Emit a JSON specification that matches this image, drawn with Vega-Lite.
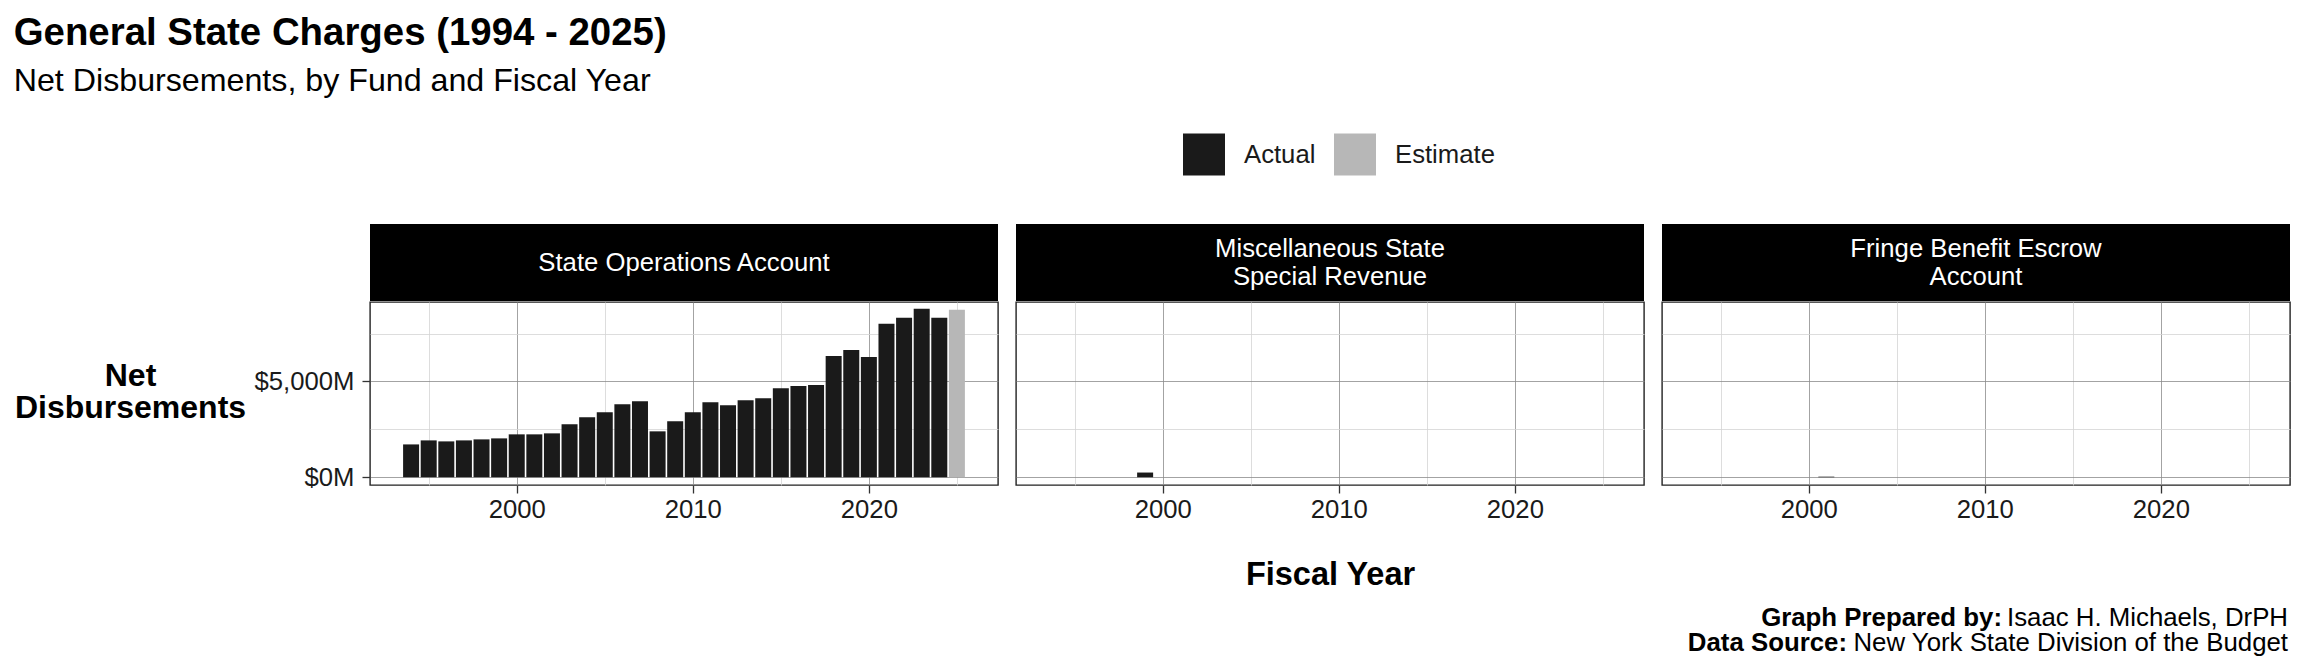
{
  "$schema": "https://vega.github.io/schema/vega-lite/v6.json",
  "background": "white",
  "padding": {"left": 13, "top": 13, "right": 16, "bottom": 4},
  "title": {
    "text": "General State Charges (1994 - 2025)",
    "subtitle": "Net Disbursements, by Fund and Fiscal Year",
    "anchor": "start",
    "frame": "bounds",
    "fontSize": 38.4,
    "fontWeight": "bold",
    "color": "black",
    "subtitleFontSize": 32.2,
    "subtitleColor": "black",
    "subtitlePadding": 13,
    "offset": 35
  },
  "datasets": {
    "gsc": [
      {"fund": "State Operations Account", "year": 1994, "value": 1713, "type": "Actual"},
      {"fund": "State Operations Account", "year": 1995, "value": 1923, "type": "Actual"},
      {"fund": "State Operations Account", "year": 1996, "value": 1871, "type": "Actual"},
      {"fund": "State Operations Account", "year": 1997, "value": 1923, "type": "Actual"},
      {"fund": "State Operations Account", "year": 1998, "value": 1976, "type": "Actual"},
      {"fund": "State Operations Account", "year": 1999, "value": 2028, "type": "Actual"},
      {"fund": "State Operations Account", "year": 2000, "value": 2238, "type": "Actual"},
      {"fund": "State Operations Account", "year": 2001, "value": 2238, "type": "Actual"},
      {"fund": "State Operations Account", "year": 2002, "value": 2290, "type": "Actual"},
      {"fund": "State Operations Account", "year": 2003, "value": 2762, "type": "Actual"},
      {"fund": "State Operations Account", "year": 2004, "value": 3129, "type": "Actual"},
      {"fund": "State Operations Account", "year": 2005, "value": 3392, "type": "Actual"},
      {"fund": "State Operations Account", "year": 2006, "value": 3811, "type": "Actual"},
      {"fund": "State Operations Account", "year": 2007, "value": 3969, "type": "Actual"},
      {"fund": "State Operations Account", "year": 2008, "value": 2395, "type": "Actual"},
      {"fund": "State Operations Account", "year": 2009, "value": 2920, "type": "Actual"},
      {"fund": "State Operations Account", "year": 2010, "value": 3392, "type": "Actual"},
      {"fund": "State Operations Account", "year": 2011, "value": 3916, "type": "Actual"},
      {"fund": "State Operations Account", "year": 2012, "value": 3759, "type": "Actual"},
      {"fund": "State Operations Account", "year": 2013, "value": 4021, "type": "Actual"},
      {"fund": "State Operations Account", "year": 2014, "value": 4126, "type": "Actual"},
      {"fund": "State Operations Account", "year": 2015, "value": 4650, "type": "Actual"},
      {"fund": "State Operations Account", "year": 2016, "value": 4755, "type": "Actual"},
      {"fund": "State Operations Account", "year": 2017, "value": 4808, "type": "Actual"},
      {"fund": "State Operations Account", "year": 2018, "value": 6329, "type": "Actual"},
      {"fund": "State Operations Account", "year": 2019, "value": 6643, "type": "Actual"},
      {"fund": "State Operations Account", "year": 2020, "value": 6276, "type": "Actual"},
      {"fund": "State Operations Account", "year": 2021, "value": 8007, "type": "Actual"},
      {"fund": "State Operations Account", "year": 2022, "value": 8322, "type": "Actual"},
      {"fund": "State Operations Account", "year": 2023, "value": 8794, "type": "Actual"},
      {"fund": "State Operations Account", "year": 2024, "value": 8322, "type": "Actual"},
      {"fund": "State Operations Account", "year": 2025, "value": 8741, "type": "Estimate"},
      {"fund": "Miscellaneous State Special Revenue", "year": 1999, "value": 245, "type": "Actual"},
      {"fund": "Fringe Benefit Escrow Account", "year": 2001, "value": 30, "type": "Actual"}
    ]
  },
  "vconcat": [
    {
      "hconcat": [
        {
          "vconcat": [
            {
              "width": 628, "height": 77,
              "data": {"values": [{"panel": "State Operations Account"}]},
              "mark": {"type": "text", "color": "white", "fontSize": 25.7, "lineBreak": "\n", "lineHeight": 28},
              "encoding": {"text": {"field": "panel"}},
              "view": {"fill": "black", "stroke": null}
            },
            {
              "width": 628, "height": 183,
              "data": {"name": "gsc"},
              "transform": [{"filter": "datum.fund === 'State Operations Account'"}],
              "mark": {"type": "bar", "size": 16},
              "encoding": {
                "x": {"field": "year", "type": "quantitative",
                  "scale": {"domain": [1991.95, 2027.05], "nice": false, "zero": false},
                  "axis": {"values": [1995, 2000, 2005, 2010, 2015, 2020, 2025], "format": "d",
                    "labelExpr": "datum.value % 10 === 0 ? datum.label : ''",
                    "tickOpacity": {"condition": {"test": "datum.value % 10 === 0", "value": 1}, "value": 0},
                    "gridColor": {"condition": {"test": "datum.value % 10 === 0", "value": "#8c8c8c"}, "value": "#d4d4d4"},
                    "labelPadding": 4.5, "labelOverlap": false, "labelFlush": false, "title": null}},
                "y": {"field": "value", "type": "quantitative",
                  "scale": {"domain": [-405, 9145], "nice": false},
                  "axis": {"values": [0, 2500, 5000, 7500],
                    "labelExpr": "datum.value % 5000 === 0 ? '$' + format(datum.value, ',') + 'M' : ''",
                    "tickOpacity": {"condition": {"test": "datum.value % 5000 === 0", "value": 1}, "value": 0},
                    "gridColor": {"condition": {"test": "datum.value % 5000 === 0", "value": "#8c8c8c"}, "value": "#d4d4d4"},
                    "labelPadding": 8,
                    "title": ["Net", "Disbursements"], "titleAngle": 0, "titleAlign": "center", "titleBaseline": "middle",
                    "titleX": -240, "titleY": 73.5, "titleLineHeight": 32}},
                "y2": {"datum": 0},
                "color": {"field": "type", "type": "nominal",
                  "scale": {"domain": ["Actual", "Estimate"], "range": ["#1a1a1a", "#b7b7b7"]},
                  "legend": {"title": null, "orient": "none", "legendX": 813, "legendY": -90.5, "direction": "horizontal",
                    "symbolType": "square", "symbolSize": 1764, "symbolStrokeWidth": 0, "symbolOpacity": 1,
                    "labelFontSize": 25.7, "labelColor": "#1a1a1a", "labelOffset": 19, "columnPadding": 18, "labelLimit": 400}}
              },
              "view": {"stroke": "#222222", "strokeWidth": 1.4}
            }
          ],
          "spacing": 0
        },
        {
          "vconcat": [
            {
              "width": 628, "height": 77,
              "data": {"values": [{"panel": "Miscellaneous State\nSpecial Revenue"}]},
              "mark": {"type": "text", "color": "white", "fontSize": 25.7, "lineBreak": "\n", "lineHeight": 28, "dy": -14},
              "encoding": {"text": {"field": "panel"}},
              "view": {"fill": "black", "stroke": null}
            },
            {
              "width": 628, "height": 183,
              "data": {"name": "gsc"},
              "transform": [{"filter": "datum.fund === 'Miscellaneous State Special Revenue'"}],
              "mark": {"type": "bar", "size": 16},
              "encoding": {
                "x": {"field": "year", "type": "quantitative",
                  "scale": {"domain": [1991.95, 2027.05], "nice": false, "zero": false},
                  "axis": {"values": [1995, 2000, 2005, 2010, 2015, 2020, 2025], "format": "d",
                    "labelExpr": "datum.value % 10 === 0 ? datum.label : ''",
                    "tickOpacity": {"condition": {"test": "datum.value % 10 === 0", "value": 1}, "value": 0},
                    "gridColor": {"condition": {"test": "datum.value % 10 === 0", "value": "#8c8c8c"}, "value": "#d4d4d4"},
                    "labelPadding": 4.5, "labelOverlap": false, "labelFlush": false,
                    "title": "Fiscal Year", "titlePadding": 36, "titleFontSize": 32.5}},
                "y": {"field": "value", "type": "quantitative",
                  "scale": {"domain": [-405, 9145], "nice": false},
                  "axis": {"values": [0, 2500, 5000, 7500], "labels": false, "ticks": false, "title": null,
                    "gridColor": {"condition": {"test": "datum.value % 5000 === 0", "value": "#8c8c8c"}, "value": "#d4d4d4"}}},
                "y2": {"datum": 0},
                "color": {"field": "type", "type": "nominal",
                  "scale": {"domain": ["Actual", "Estimate"], "range": ["#1a1a1a", "#b7b7b7"]},
                  "legend": null}
              },
              "view": {"stroke": "#222222", "strokeWidth": 1.4}
            }
          ],
          "spacing": 0
        },
        {
          "vconcat": [
            {
              "width": 628, "height": 77,
              "data": {"values": [{"panel": "Fringe Benefit Escrow\nAccount"}]},
              "mark": {"type": "text", "color": "white", "fontSize": 25.7, "lineBreak": "\n", "lineHeight": 28, "dy": -14},
              "encoding": {"text": {"field": "panel"}},
              "view": {"fill": "black", "stroke": null}
            },
            {
              "width": 628, "height": 183,
              "data": {"name": "gsc"},
              "transform": [{"filter": "datum.fund === 'Fringe Benefit Escrow Account'"}],
              "mark": {"type": "bar", "size": 16},
              "encoding": {
                "x": {"field": "year", "type": "quantitative",
                  "scale": {"domain": [1991.95, 2027.05], "nice": false, "zero": false},
                  "axis": {"values": [1995, 2000, 2005, 2010, 2015, 2020, 2025], "format": "d",
                    "labelExpr": "datum.value % 10 === 0 ? datum.label : ''",
                    "tickOpacity": {"condition": {"test": "datum.value % 10 === 0", "value": 1}, "value": 0},
                    "gridColor": {"condition": {"test": "datum.value % 10 === 0", "value": "#8c8c8c"}, "value": "#d4d4d4"},
                    "labelPadding": 4.5, "labelOverlap": false, "labelFlush": false, "title": null}},
                "y": {"field": "value", "type": "quantitative",
                  "scale": {"domain": [-405, 9145], "nice": false},
                  "axis": {"values": [0, 2500, 5000, 7500], "labels": false, "ticks": false, "title": null,
                    "gridColor": {"condition": {"test": "datum.value % 5000 === 0", "value": "#8c8c8c"}, "value": "#d4d4d4"}}},
                "y2": {"datum": 0},
                "color": {"field": "type", "type": "nominal",
                  "scale": {"domain": ["Actual", "Estimate"], "range": ["#1a1a1a", "#b7b7b7"]},
                  "legend": null}
              },
              "view": {"stroke": "#222222", "strokeWidth": 1.4}
            }
          ],
          "spacing": 0
        }
      ],
      "spacing": 16
    },
    {
      "width": 1918, "height": 48,
      "data": {"values": [{}]},
      "layer": [
        {"mark": {"type": "text", "text": "Graph Prepared by:", "fontWeight": "bold", "fontSize": 25.8, "align": "right", "baseline": "middle", "dx": -286, "dy": -9, "color": "black"}, "encoding": {"x": {"value": "width"}}},
        {"mark": {"type": "text", "text": "Isaac H. Michaels, DrPH", "fontSize": 25.8, "align": "right", "baseline": "middle", "dy": -9, "color": "black"}, "encoding": {"x": {"value": "width"}}},
        {"mark": {"type": "text", "text": "Data Source:", "fontWeight": "bold", "fontSize": 25.8, "align": "right", "baseline": "middle", "dx": -441, "dy": 16, "color": "black"}, "encoding": {"x": {"value": "width"}}},
        {"mark": {"type": "text", "text": "New York State Division of the Budget", "fontSize": 25.8, "align": "right", "baseline": "middle", "dy": 16, "color": "black"}, "encoding": {"x": {"value": "width"}}}
      ],
      "view": {"stroke": null}
    }
  ],
  "spacing": 11,
  "config": {
    "font": "Liberation Sans",
    "view": {"stroke": null},
    "axis": {"domain": false, "labelFontSize": 25.7, "labelColor": "#1a1a1a", "tickColor": "#333333", "tickWidth": 1.3, "tickSize": 8, "gridWidth": 0.8, "titleFontSize": 32, "titleFontWeight": "bold", "titleColor": "black"}
  }
}
